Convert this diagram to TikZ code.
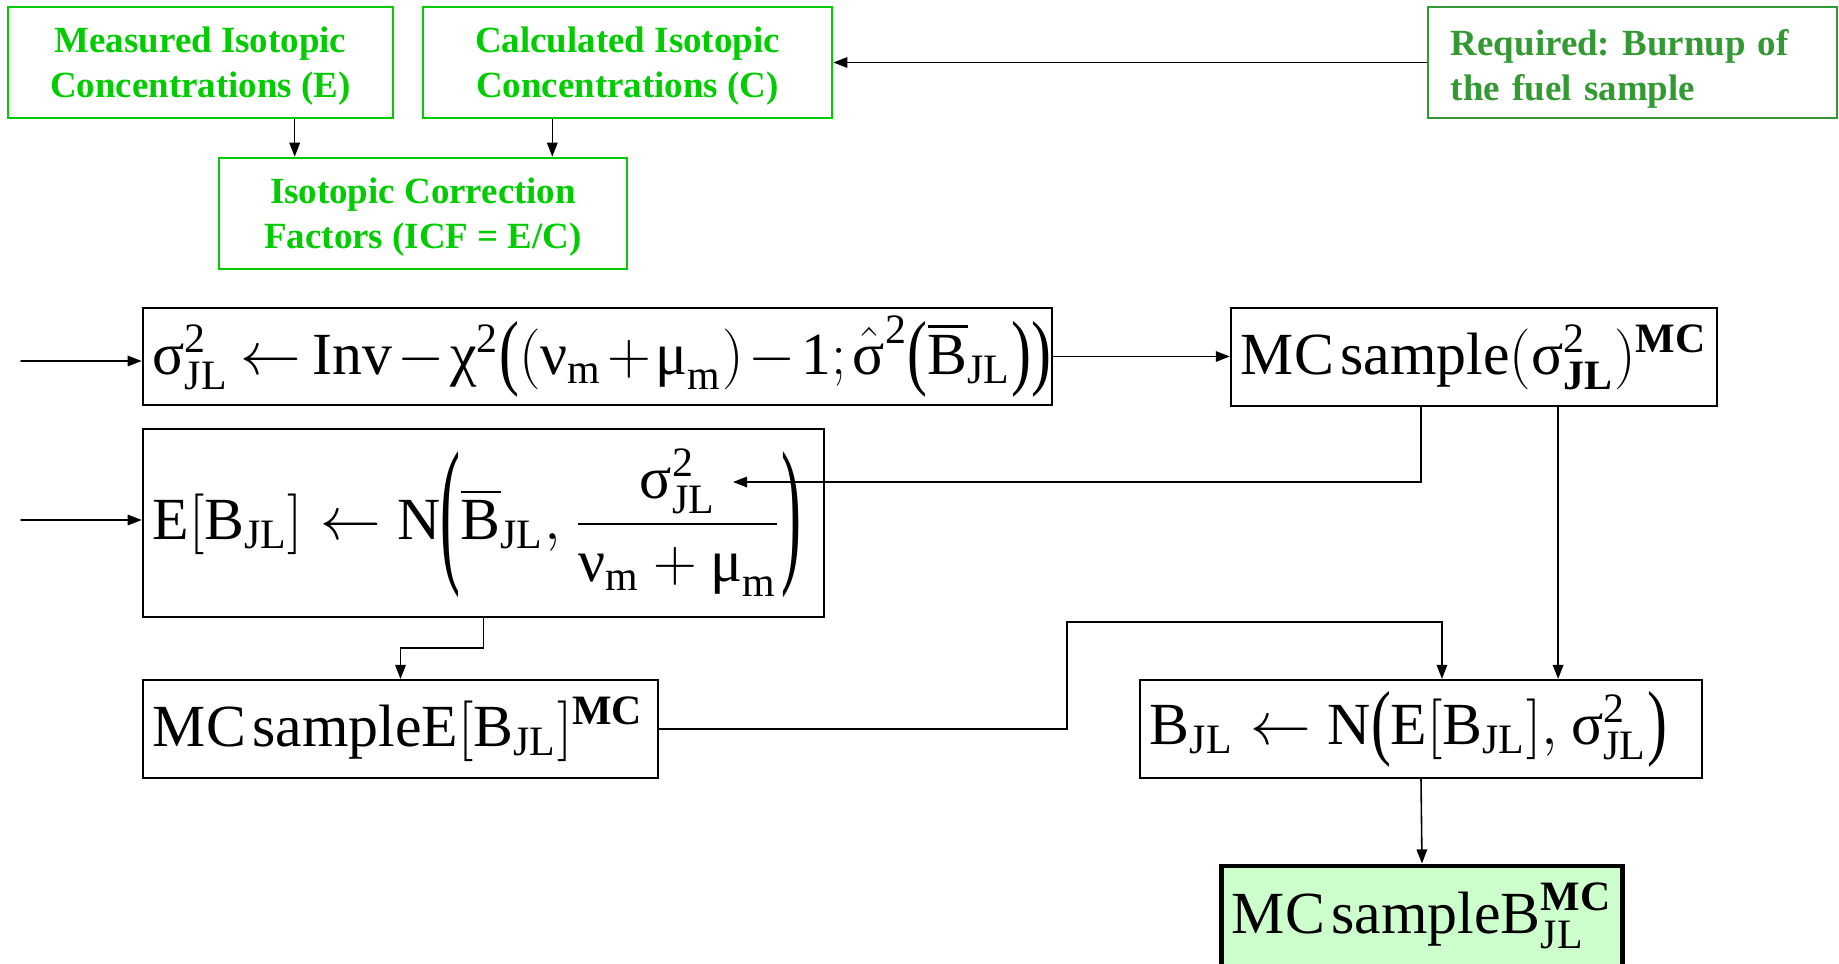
\documentclass[tikz,border=0pt]{standalone}
\usepackage{amsmath}
\usepackage{graphicx}
\usepackage{fontspec}
\setmainfont{Liberation Serif}
\usetikzlibrary{arrows.meta}
\definecolor{bgreen}{RGB}{0,204,0}
\definecolor{dgreen}{RGB}{51,153,51}
\definecolor{lgreen}{RGB}{204,255,204}
\newcommand{\tx}[1]{\text{#1}}
\newcommand{\tb}[1]{\text{\bfseries #1}}
% tall thin parentheses
\newcommand{\tallp}[2]{\mathopen{\vcenter{\hbox{\scalebox{1}[#1]{(}}}}#2\mathclose{\vcenter{\hbox{\scalebox{1}[#1]{)}}}}}
\medmuskip=1.5mu
\thickmuskip=3.5mu
\thinmuskip=2mu

\begin{document}
\begin{tikzpicture}[x=0.01cm,y=-0.01cm,line cap=round,
    gbox/.style={draw=bgreen,text=bgreen,line width=0.7pt,inner sep=0pt,minimum height=1.11cm,
      align=center,text depth=-0.8pt,font=\fontsize{10.5}{12.8}\selectfont\bfseries\frenchspacing},
    mbox/.style={draw,line width=0.6pt,inner xsep=0.1cm,inner ysep=0pt,align=left,
      font=\fontsize{17}{20}\selectfont},
    arr/.style={-{Triangle[length=4pt,width=3pt]},line width=0.45pt}]
    \path[use as bounding box,clip] (0,0) rectangle (1839,964);
    % top row
    \node[gbox,minimum width=3.85cm] (meas) at (200.5,62.5) {Measured Isotopic\\Concentrations (E)};
    \node[gbox,minimum width=4.09cm] (calc) at (627.5,62.5) {Calculated Isotopic\\Concentrations (C)};
    \node[gbox,draw=dgreen,text=dgreen,align=left,text depth={},inner xsep=0.23cm,text width=3.63cm,
      execute at begin node=\rule{0pt}{11pt}] (req) at (1632.5,62.5) {Required: Burnup of\\the fuel sample};
    \node[gbox,minimum width=4.08cm] (icf) at (423,213.5) {Isotopic Correction\\Factors (ICF = E/C)};
    \draw[arr] (req.west) -- (calc.east);
    \draw[arr] ([xshift=0.77cm]icf.north west |- meas.south) -- ([xshift=0.77cm]icf.north west);
    \draw[arr] ([xshift=-0.76cm]icf.north east |- calc.south) -- ([xshift=-0.76cm]icf.north east);
    % sampling chain
    \node[mbox,text width=8.89cm,minimum height=0.97cm] (inv) at (597.5,356.5)
      {\mbox{$\tx{σ}^{\tx{2}}_{\tx{JL}}\leftarrow\tx{Inv}-\tx{χ}^{\tx{2}}\tallp{1.4}{(\tx{ν}_{\tx{m}}+\tx{μ}_{\tx{m}})-\tx{1};\hat{\tx{σ}}^{\tx{2}}\tallp{1.4}{\overline{\tx{B}}_{\tx{JL}}}}$}};
    \node[mbox,text width=4.66cm,minimum height=0.98cm] (mcs) at (1474,357)
      {\mbox{$\tx{MC}\,\tx{sample}(\tx{σ}^{\tx{2}}_{\tb{JL}})^{\tb{MC}}$}};
    \node[mbox,text width=6.61cm,minimum height=1.88cm] (ebox) at (483.5,523)
      {\mbox{$\medmuskip=4mu\thickmuskip=5mu\tx{E}[\tx{B}_{\tx{JL}}]\leftarrow\tx{N}\tallp{2.7}{\overline{\tx{B}}_{\tx{JL}},\,\dfrac{\tx{σ}^{\tx{2}}_{\tx{JL}}}{\tx{ν}_{\tx{m}}+\tx{μ}_{\tx{m}}}}$}};
    \node[mbox,text width=4.95cm,minimum height=0.98cm] (mce) at (400.5,729)
      {\mbox{$\tx{MC}\,\tx{sample}\tx{E}[\tx{B}_{\tx{JL}}]^{\tb{MC}}$}};
    \node[mbox,text width=5.42cm,minimum height=0.98cm] (bbox) at (1421,729)
      {\mbox{$\thickmuskip=5mu\tx{B}_{\tx{JL}}\leftarrow\tx{N}\tallp{1.4}{\tx{E}[\tx{B}_{\tx{JL}}],\,\tx{σ}^{\tx{2}}_{\tx{JL}}}$}};
    \node[mbox,fill=lgreen,line width=1.4pt,text width=3.8cm,minimum height=1cm] (fin) at (1422,916)
      {\mbox{$\tx{MC}\,\tx{sample}\tx{B}^{\tb{MC}}_{\tx{JL}}$}};
    \coordinate (inA) at (21,361);
    \coordinate (inB) at (21,520);
    \coordinate (sighd) at (733,482);
    \coordinate (bin) at ([xshift=3.03cm]bbox.north west);
    \draw[arr] (inA) -- (inA -| inv.west);
    \draw[arr] (inB) -- (inB -| ebox.west);
    \draw[arr] (inv.east) -- (inv.east -| mcs.west);
    \draw[arr] (bbox.south |- mcs.south) |- (sighd);
    \draw[arr] ([xshift=-1.6cm]mcs.south east) -- ([xshift=-1.6cm]mcs.south east |- bbox.north);
    \draw[arr] (ebox.south) -- ++(0,30) -| (mce.north);
    \draw[arr] (mce.east) -- ++(408,0) -- ++(0,-107) -| (bin);
    \draw[arr] (bbox.south) -- (fin.north);
  \end{tikzpicture}
\end{document}
